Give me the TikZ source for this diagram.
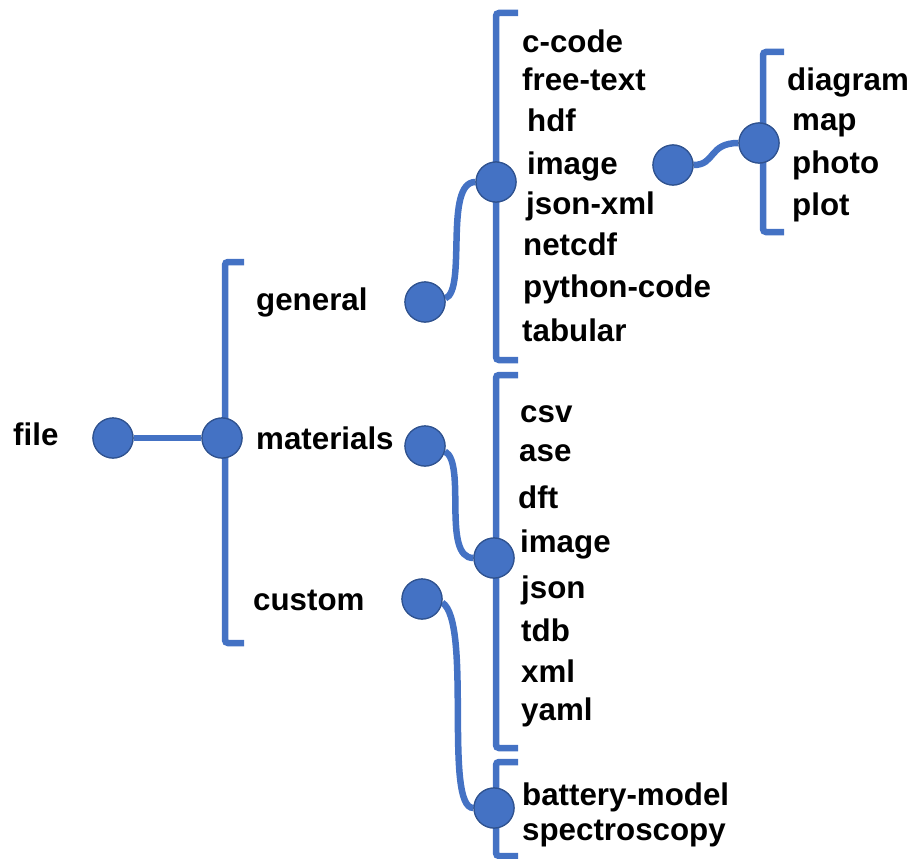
\documentclass[tikz,border=0pt]{standalone}
\usepackage{fontspec}
\setmainfont{Liberation Sans}
\definecolor{treeblue}{HTML}{4472C4}
\definecolor{treeedge}{HTML}{2F528F}
\begin{document}
\begin{tikzpicture}[x=1pt,y=-1pt,
  dot/.style={circle,fill=treeblue,draw=treeedge,line width=1.2pt,minimum size=40pt,inner sep=0pt},
  wire/.style={draw=treeblue,line width=6.5pt},
  brace/.style={draw=treeblue,line width=6.5pt,rounded corners=3pt},
  lbl/.style={anchor=base west,inner sep=0pt,font=\fontsize{31.3}{31}\selectfont\bfseries}]
\useasboundingbox (0,0) rectangle (913,859);

% brackets
\draw[brace] (244,262) -- (225,262) -- (225,643) -- (244,643);
\draw[brace] (518,13) -- (496,13) -- (496,360) -- (518,360);
\draw[brace] (518,375) -- (496,375) -- (496,748) -- (518,748);
\draw[brace] (518,762) -- (496,762) -- (496,856) -- (518,856);
\draw[brace] (784,52) -- (763,52) -- (763,232) -- (784,232);

% dots
\node[dot] (file) at (113,438) {};
\node[dot] (root) at (222,438) {};
\node[dot] (gen) at (425,302) {};
\node[dot] (mat) at (425,446) {};
\node[dot] (cus) at (422,599) {};
\node[dot] (ghub) at (496,182) {};
\node[dot] (mhub) at (494,558) {};
\node[dot] (chub) at (494,808) {};
\node[dot] (img) at (673,165) {};
\node[dot] (ihub) at (759,143) {};

% connectors
\draw[wire] (file) -- (root);
\draw[wire] (gen.10) .. controls +(22,-8) and +(-32,0) .. (ghub.west);
\draw[wire] (mat.-15) .. controls +(22,12) and +(-32,0) .. (mhub.west);
\draw[wire] (cus.-10) .. controls +(30,20) and +(-30,0) .. (chub.west);
\draw[wire] (img.east) .. controls +(22,0) and +(-30,0) .. (ihub.west);

% redraw dots above connectors
\foreach \n in {file,root,gen,mat,cus,ghub,mhub,chub,img,ihub}
  \node[dot] at (\n) {};

% labels
\node[lbl] (tfile) at (13,445) {file};
\node[lbl] (tgen) at (256,310) {general};
\node[lbl] (tmat) at (256,449) {materials};
\node[lbl] (tcus) at (253,610) {custom};

\node[lbl] (g1) at (522,53) {c-code};
\node[lbl] (g2) at (522,91) {free-text};
\node[lbl] (g3) at (527,131) {hdf};
\node[lbl] (g4) at (527,174) {image};
\node[lbl] (g5) at (526,214) {json-xml};
\node[lbl] (g6) at (523,255) {netcdf};
\node[lbl] (g7) at (523,297) {python-code};
\node[lbl] (g8) at (522,341) {tabular};

\node[lbl] (i1) at (787,90) {diagram};
\node[lbl] (i2) at (792,130) {map};
\node[lbl] (i3) at (792,173) {photo};
\node[lbl] (i4) at (792,215) {plot};

\node[lbl] (m1) at (520,422) {csv};
\node[lbl] (m2) at (519,461) {ase};
\node[lbl] (m3) at (518,508) {dft};
\node[lbl] (m4) at (520,552) {image};
\node[lbl] (m5) at (521,598) {json};
\node[lbl] (m6) at (521,641) {tdb};
\node[lbl] (m7) at (521,682) {xml};
\node[lbl] (m8) at (521,720) {yaml};

\node[lbl] (c1) at (522,805) {battery-model};
\node[lbl] (c2) at (522,840) {spectroscopy};
\end{tikzpicture}
\end{document}
